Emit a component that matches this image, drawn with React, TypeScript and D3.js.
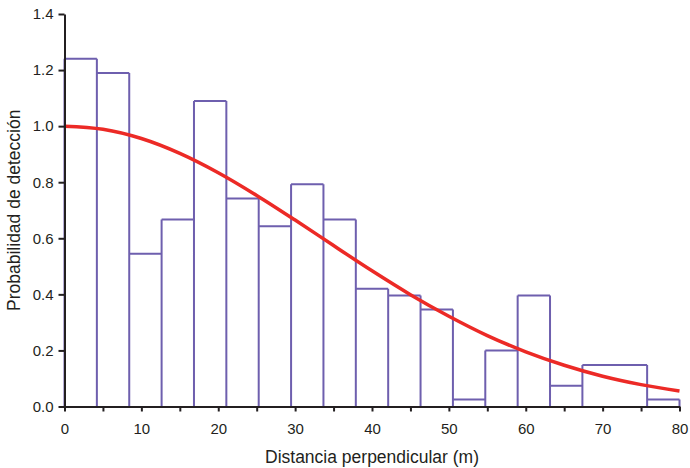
import React, { useRef, useEffect } from "react";
import * as d3 from "d3";

// histogram: 19 bins of equal width over 0-80 m
const binEdges = d3.range(0, 20).map((i) => (i * 80) / 19);
const binValues = [
  1.24, 1.19, 0.545, 0.667, 1.09, 0.742, 0.643, 0.793, 0.667, 0.42,
  0.396, 0.346, 0.025, 0.2, 0.396, 0.074, 0.148, 0.148, 0.025,
];

const curveX = [0, 5, 10, 15, 20, 25, 30, 35, 40, 45, 50, 55, 60, 65, 70, 75, 80];
const curveY = [
  1.0, 0.989, 0.956, 0.903, 0.834, 0.753, 0.665, 0.574, 0.484, 0.399, 0.322,
  0.253, 0.195, 0.147, 0.108, 0.078, 0.055,
];

const xTicks = d3.range(0, 81, 5);
const yTicks = [0, 0.2, 0.4, 0.6, 0.8, 1.0, 1.2, 1.4];

const W = 690;
const H = 468;
const font = "'Liberation Sans', Arial, sans-serif";

export default function App() {
  const ref = useRef<SVGSVGElement>(null);

  useEffect(() => {
    const svg = d3.select(ref.current);
    svg.selectAll("*").remove();

    const x = d3.scaleLinear().domain([0, 80]).range([64.5, 679.5]);
    const y = d3.scaleLinear().domain([0, 1.4]).range([406.5, 14]);

    // bar outlines: tops plus the vertical edges between bins
    const p = d3.path();
    binValues.forEach((v, i) => {
      p.moveTo(x(binEdges[i]), y(v));
      p.lineTo(x(binEdges[i + 1]), y(v));
    });
    binEdges.forEach((e, i) => {
      const left = i > 0 ? binValues[i - 1] : 0;
      const right = i < binValues.length ? binValues[i] : 0;
      if (left === right) return;
      p.moveTo(x(e), y(0));
      p.lineTo(x(e), y(Math.max(left, right)));
    });
    svg
      .append("path")
      .attr("d", p.toString())
      .attr("fill", "none")
      .attr("stroke", "#6e5fae")
      .attr("stroke-width", 2);

    const line = d3
      .line<number>()
      .x((d, i) => x(curveX[i]))
      .y((d) => y(d))
      .curve(d3.curveMonotoneX);
    svg
      .append("path")
      .attr("d", line(curveY))
      .attr("fill", "none")
      .attr("stroke", "#ec2a26")
      .attr("stroke-width", 3.5);

    const xAxis = svg
      .append("g")
      .attr("transform", `translate(0,${y(0)})`)
      .call(
        d3
          .axisBottom(x)
          .tickValues(xTicks)
          .tickSize(5)
          .tickSizeOuter(0)
          .tickPadding(12)
          .tickFormat((d) => ((d as number) % 10 === 0 ? String(d) : ""))
      );

    const yAxis = svg
      .append("g")
      .attr("transform", `translate(${x(0)},0)`)
      .call(
        d3
          .axisLeft(y)
          .tickValues(yTicks)
          .tickSize(6)
          .tickSizeOuter(0)
          .tickPadding(5)
          .tickFormat(d3.format(".1f"))
      );

    [xAxis, yAxis].forEach((g) => {
      g.select(".domain").attr("stroke", "#231f20").attr("stroke-width", 2);
      g.selectAll(".tick line").attr("stroke", "#231f20").attr("stroke-width", 2);
      g.selectAll(".tick text")
        .attr("fill", "#231f20")
        .style("font-family", font)
        .style("font-size", "15px");
    });

    svg
      .append("text")
      .attr("x", (x(0) + x(80)) / 2)
      .attr("y", 463)
      .attr("text-anchor", "middle")
      .attr("fill", "#231f20")
      .style("font-family", font)
      .style("font-size", "17.5px")
      .text("Distancia perpendicular (m)");

    svg
      .append("text")
      .attr("transform", `translate(20,${(y(0) + y(1.4)) / 2}) rotate(-90)`)
      .attr("text-anchor", "middle")
      .attr("fill", "#231f20")
      .style("font-family", font)
      .style("font-size", "17.5px")
      .text("Probabilidad de detección");
  }, []);

  return (
    <svg
      ref={ref}
      width={W}
      height={H}
      style={{ position: "absolute", left: 0, top: 0, background: "#fff" }}
    />
  );
}
